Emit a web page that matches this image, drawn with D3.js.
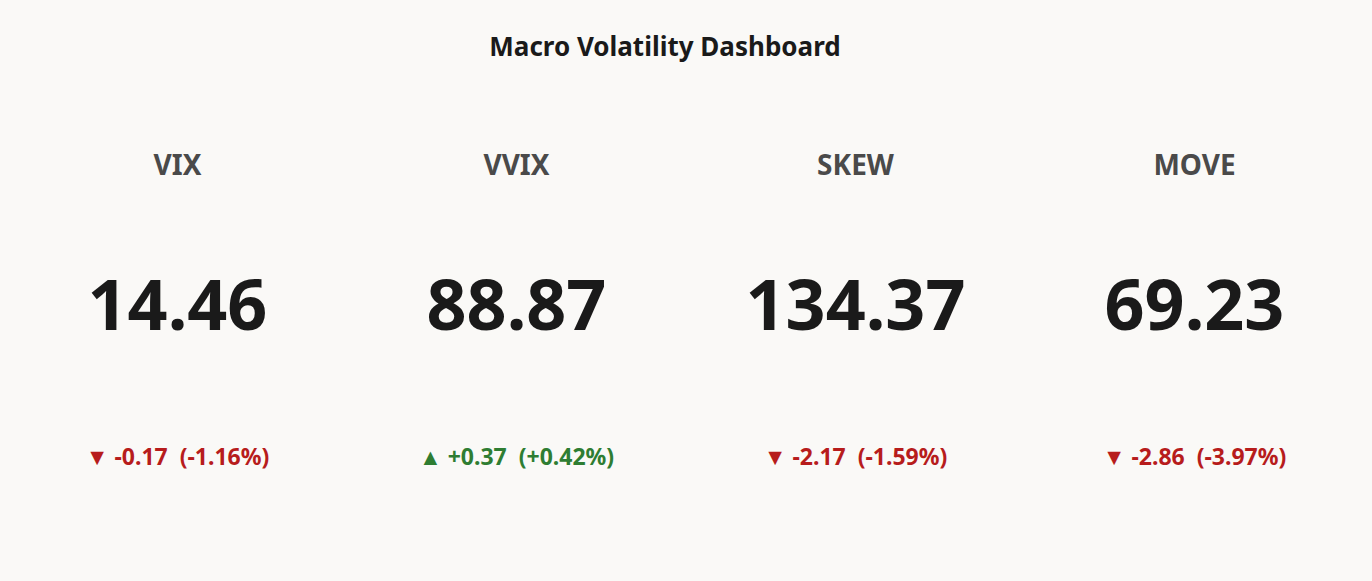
<!DOCTYPE html>
<html><head><meta charset="utf-8">
<script src="https://cdn.jsdelivr.net/npm/d3@7"></script>
<style>body{margin:0;background:#faf9f7;}</style></head>
<body><svg id="c" width="1372" height="581"></svg>
<script>
const names = ["VIX","VVIX","SKEW","MOVE"];
const values = [14.46, 88.87, 134.37, 69.23];
const changes = [-0.17, 0.37, -2.17, -2.86];
const pcts = [-1.16, 0.42, -1.59, -3.97];
const svg = d3.select("#c");
const font = "'Noto Sans', 'Open Sans', sans-serif";
svg.append("rect").attr("width",1372).attr("height",581).attr("fill","#faf9f7");
svg.append("text").attr("x",665).attr("y",56).attr("text-anchor","middle")
  .attr("font-family",font).attr("font-weight","bold").attr("font-size",26).attr("fill","#1a1a1a")
  .text("Macro Volatility Dashboard");
const x = d3.scaleBand().domain(names).range([8,1364]);
const g = svg.selectAll("g.k").data(names).join("g")
  .attr("transform",d=>`translate(${x(d)+x.bandwidth()/2},0)`).attr("font-family",font).attr("text-anchor","middle");
g.append("text").attr("y",175).attr("font-size",28).attr("font-weight","bold").attr("fill","#4a4a4a").text(d=>d);
g.append("text").attr("y",330).attr("font-size",70).attr("font-weight","bold").attr("fill","#1a1a1a")
  .text((d,i)=>values[i].toFixed(2));
g.append("text").attr("y",465).attr("font-size",23).attr("font-weight","bold").attr("xml:space","preserve")
  .attr("fill",(d,i)=>changes[i]>=0?"#2e7d32":"#b71c1c")
  .text((d,i)=>{const s=changes[i]>=0?"+":"";return (changes[i]>=0?"▲":"▼")+" "+s+changes[i].toFixed(2)+"  ("+s+pcts[i].toFixed(2)+"%)";});
</script></body></html>
